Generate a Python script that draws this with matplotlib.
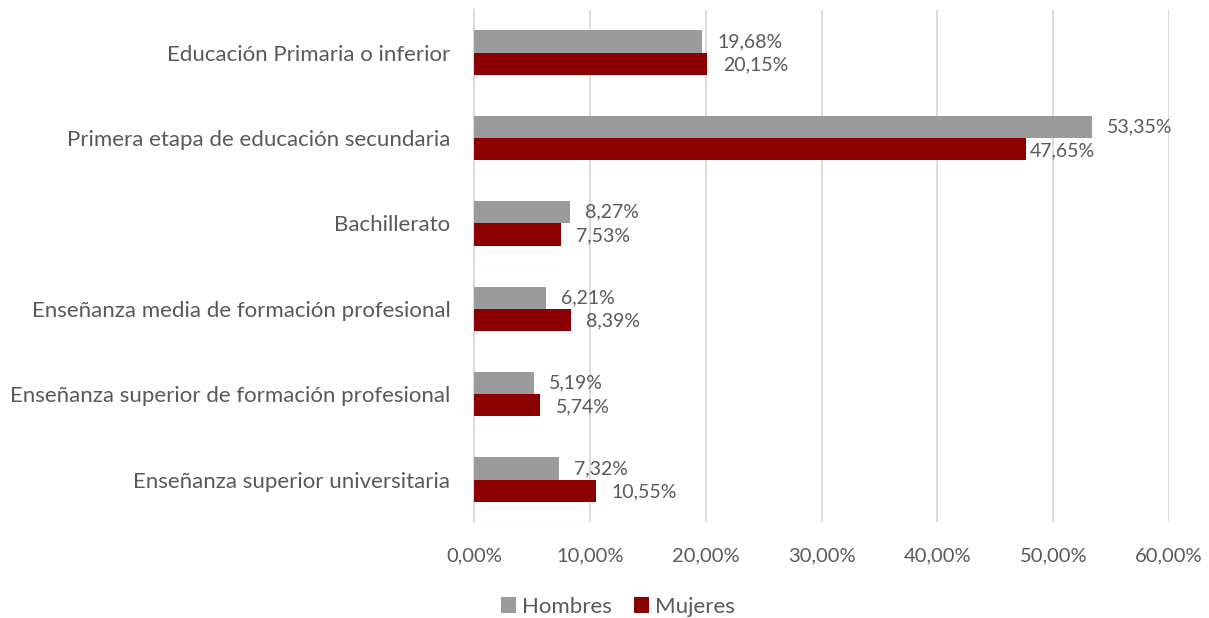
import matplotlib
matplotlib.use("Agg")
import matplotlib.pyplot as plt
from matplotlib.patches import Patch
import numpy as np

CATEGORIES = [
    "Educación Primaria o inferior",
    "Primera etapa de educación secundaria",
    "Bachillerato",
    "Enseñanza media de formación profesional",
    "Enseñanza superior de formación profesional",
    "Enseñanza superior universitaria",
]
HOMBRES = [19.68, 53.35, 8.27, 6.21, 5.19, 7.32]
MUJERES = [20.15, 47.65, 7.53, 8.39, 5.74, 10.55]
X_TICKS = [0, 10, 20, 30, 40, 50, 60]

GRAY = "#9b9b9b"
RED = "#8b0000"
TEXT = "#595959"
GRID = "#d9d9d9"

plt.rcParams["font.family"] = ["Lato", "DejaVu Sans"]


def pct(v):
    return f"{v:.2f}".replace(".", ",") + "%"


fig = plt.figure(figsize=(12.09, 6.18), dpi=100)
ax = fig.add_axes([0.392, 0.155, 0.575, 0.829])

y = np.arange(len(CATEGORIES))
h = 0.26
ax.barh(y - h / 2, HOMBRES, height=h, color=GRAY, zorder=3)
ax.barh(y + h / 2, MUJERES, height=h, color=RED, zorder=3)

for i, (hv, mv) in enumerate(zip(HOMBRES, MUJERES)):
    ax.annotate(pct(hv), (hv, i - h / 2), xytext=(11, 0), textcoords="offset points",
                va="center", ha="left", fontsize=14, color=TEXT)
    off = 3 if mv > 40 else 11
    ax.annotate(pct(mv), (mv, i + h / 2), xytext=(off, -1), textcoords="offset points",
                va="center", ha="left", fontsize=14, color=TEXT)

ax.set_ylim(len(CATEGORIES) - 0.5, -0.5)
ax.set_xlim(0, 60)
ax.set_xticks(X_TICKS)
ax.set_xticklabels([pct(t) for t in X_TICKS])
ax.set_yticks(y)
ax.set_yticklabels(CATEGORIES)
ax.tick_params(axis="y", length=0, pad=17, labelsize=16, labelcolor=TEXT)
ax.tick_params(axis="x", length=0, pad=18, labelsize=14.5, labelcolor=TEXT)
ax.grid(axis="x", color=GRID, linewidth=1.3, zorder=0)
for s in ["top", "right", "bottom"]:
    ax.spines[s].set_visible(False)
ax.spines["left"].set_color(GRID)
ax.spines["left"].set_linewidth(1.3)

handles = [Patch(facecolor=GRAY, label="Hombres"), Patch(facecolor=RED, label="Mujeres")]
leg = fig.legend(handles=handles, loc="center", bbox_to_anchor=(0.511, 0.018), ncol=2,
                 frameon=False, fontsize=16, handlelength=0.7, handleheight=0.7,
                 handletextpad=0.25, columnspacing=1.0)
for t in leg.get_texts():
    t.set_color(TEXT)

fig.savefig("out.png", dpi=100)
